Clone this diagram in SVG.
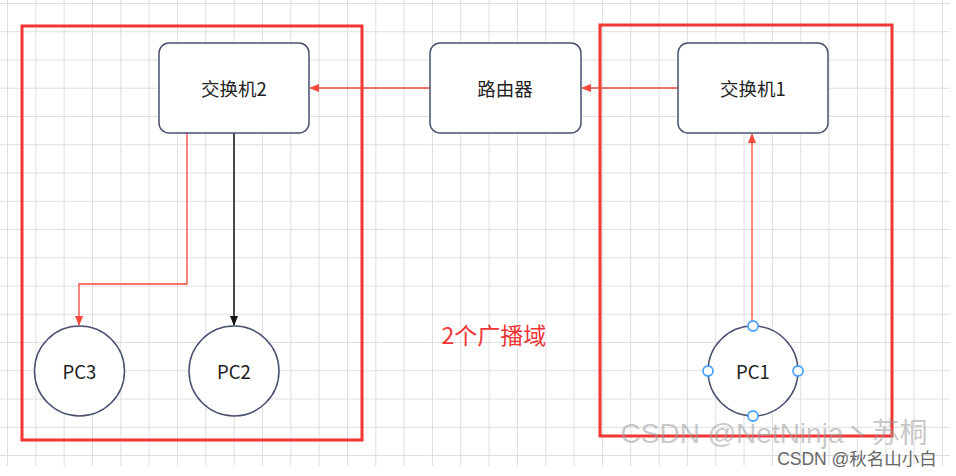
<svg xmlns="http://www.w3.org/2000/svg" width="956" height="476" viewBox="0 0 956 476">
  <defs>
    <pattern id="grid" x="7" y="3" width="28.33" height="28.25" patternUnits="userSpaceOnUse">
      <path d="M0 0 V28.25 M0 0 H28.33" fill="none" stroke="#dedede" stroke-width="2"/>
    </pattern>
    <marker id="arrRed" viewBox="0 0 10 10" refX="9" refY="5" markerWidth="10" markerHeight="10" markerUnits="userSpaceOnUse" orient="auto">
      <path d="M0 1 L10 5 L0 9 Z" fill="#f5473b"/>
    </marker>
    <marker id="arrBlack" viewBox="0 0 10 10" refX="9" refY="5" markerWidth="10" markerHeight="10" markerUnits="userSpaceOnUse" orient="auto">
      <path d="M0 1 L10 5 L0 9 Z" fill="#111"/>
    </marker>
  </defs>
  <style>
    .node { fill: #fff; stroke: #4a5170; stroke-width: 1.5; }
    .lbl { font-family: "Noto Sans CJK SC", "Noto Sans", sans-serif; font-size: 18.5px; fill: #222; text-anchor: middle; dominant-baseline: central; }
    .zone { fill: none; stroke: #f23535; stroke-width: 3; }
    .red { fill: none; stroke: #f5473b; stroke-width: 1.3; }
    .blk { fill: none; stroke: #111; stroke-width: 1.5; }
    .handle { fill: #fff; stroke: #4da3ff; stroke-width: 1.8; }
  </style>
  <rect width="956" height="476" fill="#fff"/>
  <rect x="0" y="0" width="950" height="466" fill="url(#grid)"/>

  <g id="zones">
    <rect class="zone" x="22" y="26" width="340" height="414"/>
    <rect class="zone" x="600" y="25" width="292" height="411"/>
  </g>

  <g id="connectors">
    <path class="red" d="M430 88 H310" marker-end="url(#arrRed)"/>
    <path class="red" d="M678 88 H582" marker-end="url(#arrRed)"/>
    <path class="red" d="M752 321 V134" marker-end="url(#arrRed)"/>
    <path class="red" d="M187 133 V284 H79 V325" marker-end="url(#arrRed)"/>
    <path class="blk" d="M234 133 V325" marker-end="url(#arrBlack)"/>
  </g>

  <g id="switch2">
    <rect class="node" x="159" y="43" width="150" height="90" rx="10"/>
    <text class="lbl" x="234" y="88">交换机2</text>
  </g>
  <g id="router">
    <rect class="node" x="430" y="43" width="151" height="90" rx="10"/>
    <text class="lbl" x="505" y="88">路由器</text>
  </g>
  <g id="switch1">
    <rect class="node" x="678" y="43" width="150" height="90" rx="10"/>
    <text class="lbl" x="753" y="88">交换机1</text>
  </g>
  <g id="pc3">
    <circle class="node" cx="79.5" cy="371" r="45"/>
    <text class="lbl" x="79.5" y="371">PC3</text>
  </g>
  <g id="pc2">
    <circle class="node" cx="234" cy="371" r="45"/>
    <text class="lbl" x="234" y="371">PC2</text>
  </g>
  <g id="pc1">
    <circle class="node" cx="753" cy="371" r="45"/>
    <text class="lbl" x="753" y="371">PC1</text>
    <circle class="handle" cx="753" cy="326" r="5"/>
    <circle class="handle" cx="753" cy="416" r="5"/>
    <circle class="handle" cx="708" cy="371" r="5"/>
    <circle class="handle" cx="798" cy="371" r="5"/>
  </g>

  <g id="caption">
    <text x="494" y="334" font-family="Noto Sans CJK SC, Noto Sans, sans-serif" font-size="23" fill="#f23535" text-anchor="middle" dominant-baseline="central">2个广播域</text>
  </g>

  <g id="watermark">
    <text x="774" y="443" font-family="Liberation Sans, Noto Sans CJK SC, sans-serif" font-size="28" fill="#9a9a9a" fill-opacity="0.55" text-anchor="middle">CSDN @NetNinja丶苏桐</text>
    <text x="857" y="465" font-family="Liberation Sans, Noto Sans CJK SC, sans-serif" font-size="17.5" fill="#666" text-anchor="middle">CSDN @秋名山小白</text>
  </g>
</svg>
